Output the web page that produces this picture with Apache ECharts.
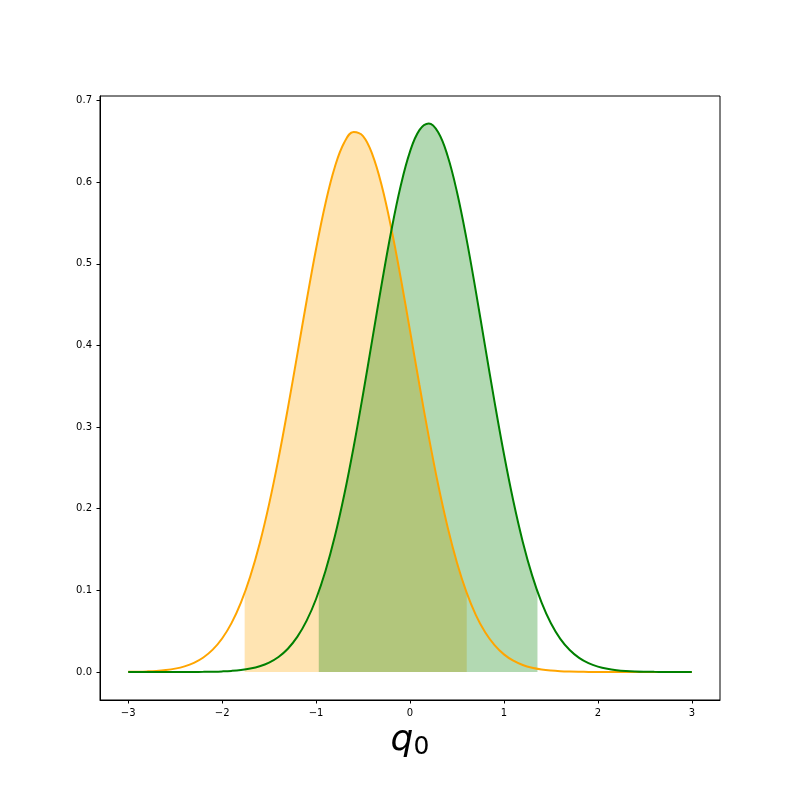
<!DOCTYPE html>
<html>
<head>
<meta charset="utf-8">
<script src="https://cdn.jsdelivr.net/npm/echarts@6/dist/echarts.min.js"></script>
<style>html,body{margin:0;padding:0;background:#fff;}#chart{width:800px;height:800px;}</style>
</head>
<body>
<div id="chart"></div>
<script>
const xValues = [-3.0,-2.9,-2.8,-2.7,-2.6,-2.5,-2.4,-2.3,-2.2,-2.1,-2.0,-1.9,-1.8,-1.7,-1.6,-1.5,-1.4,-1.3,-1.2,-1.1,-1.0,-0.9,-0.8,-0.7,-0.6,-0.5,-0.4,-0.3,-0.2,-0.1,0.0,0.1,0.2,0.3,0.4,0.5,0.6,0.7,0.8,0.9,1.0,1.1,1.2,1.3,1.4,1.5,1.6,1.7,1.8,1.9,2.0,2.1,2.2,2.3,2.4,2.5,2.6,2.7,2.8,2.9,3.0];
const orangeValues = [0.00021,0.00040,0.00075,0.00135,0.00240,0.00412,0.00689,0.01121,0.01777,0.02738,
  0.04104,0.05987,0.08494,0.11725,0.15743,0.20568,0.26142,0.32326,0.38887,0.45513,
  0.51820,0.57403,0.61862,0.64859,0.66156,0.65649,0.63378,0.59526,0.54391,0.48351,
  0.41817,0.35184,0.28800,0.22934,0.17769,0.13394,0.09822,0.07007,0.04862,0.03283,
  0.02157,0.01379,0.00857,0.00518,0.00305,0.00175,0.00097,0.00053,0.00028,0.00014,
  0.00007,0.00003,0.00002,0.00001,0.00001,0,0,0,0,0,0];
const greenValues = [0,0,0.000002,0.000005,0.000011,0.000023,0.000049,0.000101,0.000201,0.00039,
  0.00074,0.00135,0.00241,0.00419,0.00706,0.01157,0.01843,0.02854,0.04296,0.06287,
  0.08944,0.12367,0.16616,0.21706,0.27565,0.34026,0.40829,0.47619,0.53990,0.59502,
  0.63745,0.66382,0.67195,0.66119,0.63241,0.58799,0.53142,0.46683,0.39866,0.33094,
  0.26703,0.20944,0.15969,0.11837,0.08528,0.05972,0.04064,0.02690,0.01730,0.01082,
  0.00657,0.00388,0.00223,0.00125,0.00068,0.00036,0.00018,0.00009,0.00004,0.00002,0.00001];
const orangeBand = [-1.760, 0.604];
const orangeBandEdgeValues = [0.0969, 0.0969];
const greenBand = [-0.971, 1.357];
const greenBandEdgeValues = [0.0985, 0.0985];
const xTickValues = [-3,-2,-1,0,1,2,3];
const yTickValues = [0,0.1,0.2,0.3,0.4,0.5,0.6,0.7];

function curve(ys){ return xValues.map((x,i)=>[x, ys[i]]); }
function band(ys, lim, edge){
  const pts = [[lim[0], edge[0]]];
  xValues.forEach((x,i)=>{ if (x > lim[0] && x < lim[1]) pts.push([x, ys[i]]); });
  pts.push([lim[1], edge[1]]);
  return pts;
}
const fmtMinus = v => String(v).replace('-', '\u2212');

const chart = echarts.init(document.getElementById('chart'), null, {renderer:'canvas'});
const font = 'DejaVu Sans';
chart.setOption({
  animation: false,
  backgroundColor: '#fff',
  grid: {left: 100, right: 80, top: 96, bottom: 100, show: true, borderColor: '#000', borderWidth: 1, backgroundColor: 'transparent'},
  xAxis: {
    type: 'value', min: -3.3, max: 3.3,
    splitLine: {show: false},
    axisLine: {show: true, onZero: false, lineStyle: {color: '#000', width: 1}},
    axisTick: {show: true, length: 3.5, customValues: xTickValues, lineStyle: {color: '#000'}},
    axisLabel: {customValues: xTickValues, formatter: v => fmtMinus(Math.round(v)), color: '#000', fontSize: 10, fontFamily: font, margin: 8},
    name: '{q|q}{s|0}', nameLocation: 'middle', nameGap: 16,
    nameTextStyle: {rich: {
      q: {fontFamily: font, fontStyle: 'italic', fontSize: 36, color: '#000'},
      s: {fontFamily: font, fontSize: 25, color: '#000', padding: [14,0,0,0]}
    }}
  },
  yAxis: {
    type: 'value', min: -0.0343, max: 0.7056,
    splitLine: {show: false},
    axisLine: {show: true, onZero: false, lineStyle: {color: '#000', width: 1}},
    axisTick: {show: true, length: 3.5, customValues: yTickValues, lineStyle: {color: '#000'}},
    axisLabel: {customValues: yTickValues, formatter: v => v.toFixed(1), color: '#000', fontSize: 10, fontFamily: font, margin: 8}
  },
  series: [
    {type: 'line', data: band(orangeValues, orangeBand, orangeBandEdgeValues), smooth: 0.4, symbol: 'none',
     lineStyle: {width: 0}, areaStyle: {color: '#FFA500', opacity: 0.3, origin: 0}, z: 1, silent: true},
    {type: 'line', data: band(greenValues, greenBand, greenBandEdgeValues), smooth: 0.4, symbol: 'none',
     lineStyle: {width: 0}, areaStyle: {color: '#008000', opacity: 0.3, origin: 0}, z: 2, silent: true},
    {type: 'line', data: curve(orangeValues), smooth: 0.4, symbol: 'none',
     lineStyle: {width: 2, color: '#FFA500'}, z: 3},
    {type: 'line', data: curve(greenValues), smooth: 0.4, symbol: 'none',
     lineStyle: {width: 2, color: '#008000'}, z: 4}
  ]
});
</script>
</body>
</html>
